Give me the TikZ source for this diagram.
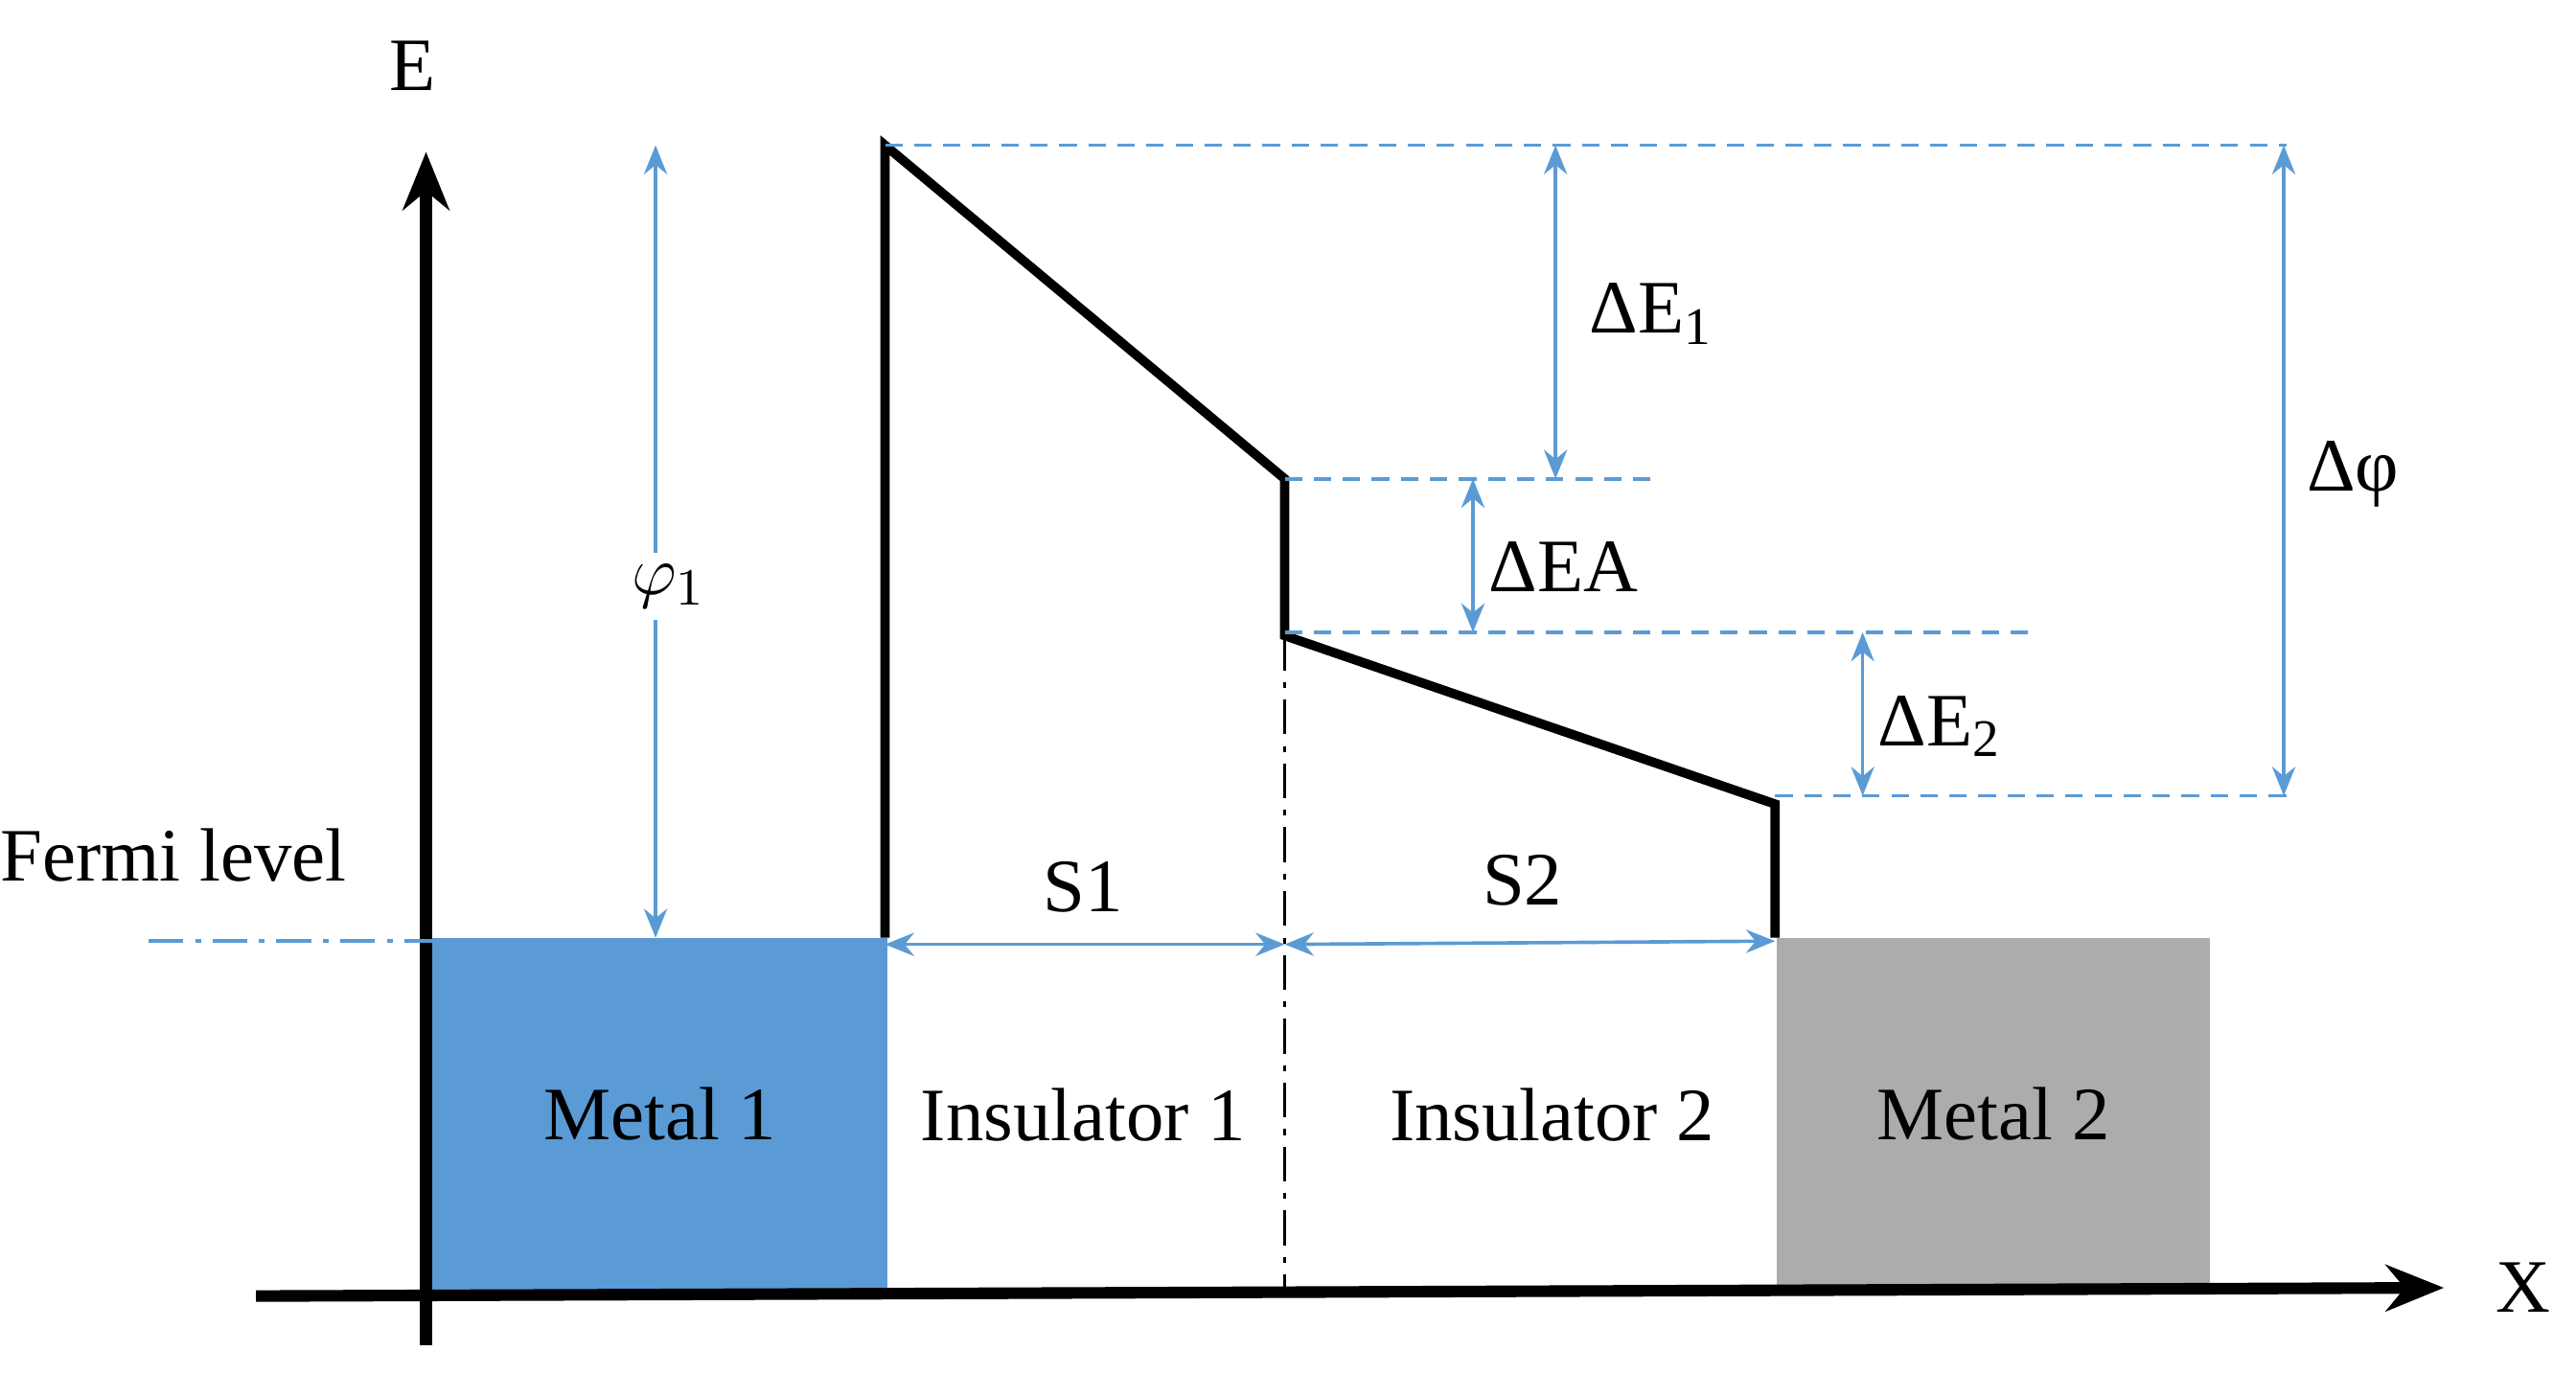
\documentclass[tikz,border=0pt]{standalone}
\usepackage{fontspec}
\setmainfont{Liberation Serif}
\usetikzlibrary{arrows.meta}
\definecolor{bl}{HTML}{5B9BD5}
\definecolor{gr}{HTML}{AEABAB}
\begin{document}
\begin{tikzpicture}[x=0.01cm,y=-0.01cm,
  lbl/.style={font=\fontsize{13}{15}\selectfont},
  dim/.style={bl,line width=0.6pt,{Stealth[length=5pt,width=4pt]}-{Stealth[length=5pt,width=4pt]}},
  guide/.style={bl,line width=0.6pt,dash pattern=on 3pt off 2pt},
  barrier/.style={black,line width=1.6pt,line join=miter}]
\useasboundingbox (0,0) rectangle (1560,832);
\node[fill=bl,draw=bl,minimum width=2.74cm,minimum height=2.12cm,anchor=north west,inner sep=0,lbl] (m1) at (262,568) {Metal 1};
\node[fill=gr,draw=gr,minimum width=2.61cm,minimum height=2.12cm,anchor=north west,inner sep=0,lbl] (m2) at (1076,568) {Metal 2};
\node[lbl] (i1) at (656,675) {Insulator 1};
\node[lbl] (i2) at (940,675) {Insulator 2};
\coordinate (eb) at (258,815); \coordinate (et) at (258,92);
\coordinate (xl) at (155,785); \coordinate (xr) at (1480,780);
\draw[line width=2pt,-{Stealth[length=10pt,width=8pt]}] (eb) -- (et);
\draw[line width=2pt,-{Stealth[length=10pt,width=8pt]}] (xl) -- (xr);
\node[lbl] (E) at (250,40) {E};
\node[lbl] (X) at (1528,780) {X};
\coordinate (f0) at (90,570);
\draw[bl,line width=0.6pt,dash pattern=on 6pt off 2pt on 1pt off 2pt] (f0) -- (262,570);
\node[lbl] (fl) at (105,518) {Fermi level};
\coordinate (p0) at (536,568); \coordinate (p1) at (536,88); \coordinate (p2) at (778,290);
\coordinate (p3) at (778,385); \coordinate (p4) at (1075,487); \coordinate (p5) at (1075,568);
\draw[barrier] (p0) -- (p1) -- (p2) -- (p3) -- (p4) -- (p5);
\coordinate (d0) at (778,780);
\draw[line width=0.6pt,dash pattern=on 6pt off 2pt on 1pt off 2pt] (p3) -- (d0);
\draw[guide] (p1) -- (1385,88);
\draw[guide] (p2) -- (1000,290);
\draw[guide] (778,383) -- (1230,383);
\draw[guide] (1075,482) -- (1385,482);
\draw[dim] (397,88) -- (397,568);
\node[lbl,fill=white,inner sep=2pt] (phi) at (405,355) {$\varphi_1$};
\draw[dim] (942,88) -- (942,290);
\node[lbl] (de1) at (1000,190) {ΔE\textsubscript{1}};
\draw[dim] (892,290) -- (892,383);
\node[lbl] (dea) at (947,343) {ΔEA};
\draw[dim] (1128,383) -- (1128,482);
\node[lbl] (de2) at (1175,440) {ΔE\textsubscript{2}};
\draw[dim] (1383,88) -- (1383,482);
\node[lbl] (dphi) at (1425,287) {Δφ};
\draw[dim] (536,572) -- (778,572);
\node[lbl] (s1) at (656,537) {S1};
\draw[dim] (778,572) -- (1075,570);
\node[lbl] (s2) at (922,533) {S2};
\end{tikzpicture}
\end{document}
